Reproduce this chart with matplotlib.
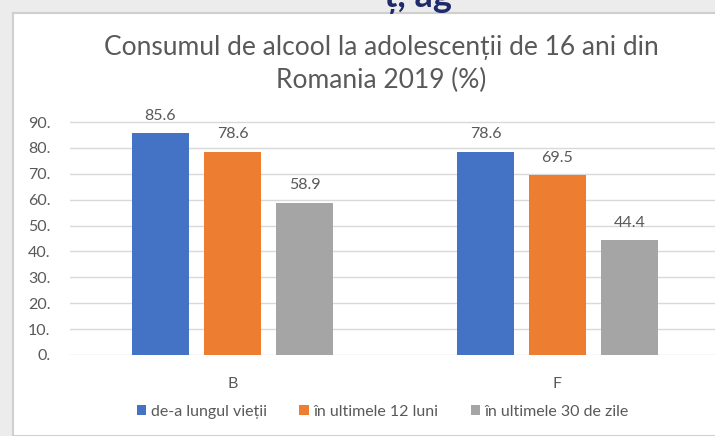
import matplotlib
matplotlib.use("Agg")
import matplotlib.pyplot as plt
import numpy as np

categories = ["B", "F"]
series_names = ["de-a lungul vieții", "în ultimele 12 luni", "în ultimele 30 de zile"]
values_lifetime = [85.6, 78.6]
values_12m = [78.6, 69.5]
values_30d = [58.9, 44.4]
yticks = [0, 10, 20, 30, 40, 50, 60, 70, 80, 90]
title = "Consumul de alcool la adolescenții de 16 ani din\nRomania 2019 (%)"

colors = ["#4472C4", "#ED7D31", "#A5A5A5"]
txt = "#595959"
plt.rcParams['font.family'] = ['Lato', 'DejaVu Sans']

W, H = 715, 436
fig = plt.figure(figsize=(W / 100, H / 100), dpi=100)
fig.patch.set_facecolor("#ececec")

# white chart box (background axes)
bg = fig.add_axes([13 / W, 0, 1 - 13 / W + 0.01, 1 - 13 / H], zorder=-5)
bg.set_facecolor("white")
bg.set_xticks([]); bg.set_yticks([])
for s in bg.spines.values():
    s.set_color("#cfcfcf"); s.set_linewidth(1.5)

# partially visible slide title at top
fig.text(0.585, 1 + 2 / H, "ț, ag", ha="center", va="center", fontsize=26,
         color="#1f2a6b", fontweight="bold")

ax = fig.add_axes([70 / W, 1 - 355 / H, 650 / W, (355 - 122) / H * 100 / 90], zorder=2)
ax.set_facecolor("none")
x = np.arange(len(categories))
width = 0.175
offset = 0.2215
for i, (vals, name) in enumerate(zip([values_lifetime, values_12m, values_30d], series_names)):
    bars = ax.bar(x + (i - 1) * offset, vals, width, color=colors[i], label=name, zorder=3)
    for b, v in zip(bars, vals):
        ax.text(b.get_x() + b.get_width() / 2, v + 4, f"{v:.1f}", ha="center", va="bottom",
                fontsize=11.5, color=txt)

ax.set_xlim(-0.5, 1.5)
ax.set_ylim(0, 100)
ax.set_yticks(yticks)
ax.set_yticklabels([f"{t}." for t in yticks], fontsize=11.5, color=txt)
ax.set_xticks(x)
ax.set_xticklabels(categories, fontsize=11.5, color=txt)
ax.tick_params(axis="both", length=0)
ax.tick_params(axis="y", pad=14)
ax.tick_params(axis="x", pad=16)
ax.grid(axis="y", color="#d9d9d9", linewidth=1, zorder=0)
for s in ax.spines.values():
    s.set_visible(False)

fig.text(381 / W, 1 - 64 / H, title, ha="center", va="center", fontsize=19,
         color=txt, linespacing=1.35)

leg = fig.legend(loc="center", bbox_to_anchor=(383 / W, 1 - 412 / H), ncol=3, frameon=False,
                 fontsize=11.5, handlelength=0.6, handleheight=0.6, handletextpad=0.3,
                 columnspacing=2.0)
for t in leg.get_texts():
    t.set_color(txt)

fig.savefig("out.png", dpi=100, facecolor=fig.get_facecolor())
